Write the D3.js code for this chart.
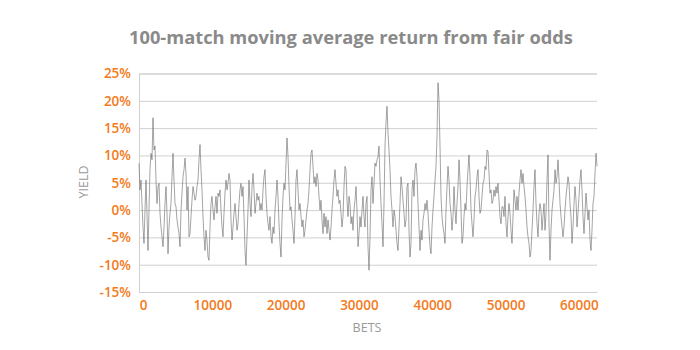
<!DOCTYPE html>
<html>
<head>
<meta charset="utf-8">
<script src="https://cdn.jsdelivr.net/npm/d3@7/dist/d3.min.js"></script>
<style>
  html, body { margin: 0; padding: 0; background: #fff; }
  svg { display: block; }
</style>
</head>
<body>
<svg id="chart" width="700" height="350"></svg>
<script>
// ---- data ----
const title = "100-match moving average return from fair odds";
const xLabel = "BETS";
const yLabel = "YIELD";
const xTicks = [0, 10000, 20000, 30000, 40000, 50000, 60000];
const yTicks = [-15, -10, -5, 0, 5, 10, 15, 20, 25];
const betsPerSample = 136.4; // one reading per ~136 bets
// 100-match moving average yield (%), read left to right
const yieldSeg1 = [8.6,3.7,5.5,1.2,-3.1,-6.1,0,5.5,-0.6,-7.4,
  0,7.4,10.4,9.2,16.9,11.0,11.7,5.5,1.2,4.3,
  4.9,-0.6,-3.1,-4.9,-6.7,-3.1,1.2,4.3,-0.6,-8.0,
  -3.1,-0.6,1.2,6.1,10.4,5.5,1.2,0.6,-1.8,-3.1,
  -4.3,-6.7,0,3.1,6.1,7.4,9.5,6.7,0,4.3,
  -4.9,-4.3,-1.2,1.8,4.3,3.1,1.8,2.5,4.3,5.5,
  9.2,12.0,7.4,3.7,-1.2,-4.9,-7.4,-3.7,-5.5,-8.6,
  -9.2,-3.1,1.2,2.5,0,-1.8,0.6,2.5,-0.6,3.1,
  2.5,3.7,0,-3.1,-4.9,-0.6,3.1,5.5,3.7,4.9,
  6.7];
const yieldSeg2 = [5.5,-1.8,-5.5,-3.1,-0.6,1.2,-1.2,-3.7,-2.5,1.2,
  3.7,4.9,2.5,4.3,-1.2,-7.4,-10.1,-4.9,0,5.5,
  1.2,-1.2,4.3,6.7,3.7,-0.6,1.2,3.1,1.8,2.5,
  0,1.2,0,3.7,6.1,7.4,2.5,-0.6,-2.5,-3.7,
  -1.2,-4.9,-6.1,-3.1,-4.3,0,2.5,5.5,2.5,-2.5,
  -6.1,-8.6,-1.8,2.5,4.9,3.7,8.6,13.2,9.8,4.3,
  0,0.6,-1.8,-3.7,-6.1,-1.2,5.5,7.4,3.7,0,
  1.2,-1.2,-3.1,-1.8,-4.9,-3.7,-1.8,0,1.2,3.7,
  7.4,10.4,11.0,8.0,4.9,6.1,4.3,6.7,5.5,2.5,
  0];
const yieldSeg3 = [1.8,-1.8,-4.3,-0.6,-3.1,-1.2,-4.3,-1.8,-3.7,-5.5,
  -3.1,0,2.5,5.5,7.4,4.9,2.5,3.7,1.2,1.8,
  -0.6,-3.1,-1.2,4.3,8.0,7.4,1.8,-1.2,2.5,1.2,
  -2.5,-1.2,-3.7,0,1.8,4.3,0,-6.7,-4.3,-1.2,
  -3.1,0,2.5,-1.2,-3.1,1.2,2.5,-6.7,-11.0,-4.9,
  3.7,6.1,1.2,4.9,8.6,8.0,9.2,9.8,11.7,5.5,
  1.2,-2.5,-6.7,1.2,11.7,16.0,19.0,14.1,11.0,7.4,
  2.5,0,-3.1,0,-1.2,-3.7,-6.1,-7.4,-3.1,1.2,
  6.1,4.3,1.8,-0.6,-3.1,-1.8,4.3,4.9,-3.7,-8.6,
  -6.1];
const yieldSeg4 = [3.7,5.5,2.5,7.4,8.6,6.1,1.2,-3.1,-7.4,-3.7,
  -5.5,-1.8,-0.6,1.2,0,1.8,-0.6,-3.7,-6.7,-8.0,
  -3.1,0,2.5,5.5,8.0,13.5,23.3,20.2,11.7,2.5,
  -1.2,-3.1,-4.3,-6.1,0,4.3,8.0,5.5,1.2,-0.6,
  -3.7,-1.2,4.3,0,-2.5,1.2,4.3,9.2,5.5,0,
  -6.1,-4.9,-1.2,1.2,0,4.3,7.4,10.1,6.1,0,
  -2.5,-4.9,-1.8,2.5,3.7,6.1,7.4,2.5,-0.6,0,
  2.5,4.9,5.5,8.0,7.4,11.0,10.7,6.7,3.1,3.7,
  1.2,1.8,3.7,2.5,4.3,3.1,4.9,1.8,-1.2,-2.5,
  0.6];
const yieldSeg5 = [0.6,-1.2,2.5,-2.5,-4.9,-1.2,1.2,-0.6,-3.7,-6.1,
  -1.2,3.7,1.8,0,2.5,0,3.1,5.5,7.4,4.9,
  6.7,4.3,2.5,0,-3.1,-4.9,-6.1,-8.6,-7.4,-3.7,
  0,4.3,7.4,1.2,-2.5,-4.9,-0.6,1.2,0,-3.7,
  -1.2,1.2,-3.7,-0.6,5.5,10.1,-2.5,-9.2,-3.7,0,
  1.8,3.7,7.4,4.9,6.1,9.2,5.5,1.2,-1.2,-3.1,
  -4.9,-3.1,0,2.5,4.3,6.1,4.9,1.2,-1.2,-6.1,
  -3.1,1.2,4.3,1.8,-3.1,-0.6,2.5,5.5,7.4,3.7,
  -1.2,-4.3,-0.6,3.1,0.6,-1.8,0,-5.5,-7.4,-3.7,
  1.2,2.5,6.7,10.4,8.0];
const yieldValues = [].concat(yieldSeg1, yieldSeg2, yieldSeg3, yieldSeg4, yieldSeg5);
const series = yieldValues.map((v, i) => ({ bets: i * betsPerSample, y: v }));

// ---- layout ----
const svg = d3.select("#chart");
const plotLeft = 139, plotRight = 597, plotTop = 73.5, plotBottom = 292;
const orange = "#f47a20";
const grey = "#8a8a8a";

const x = d3.scaleLinear().domain([0, d3.max(series, d => d.bets)]).range([plotLeft, plotRight]);
const y = d3.scaleLinear().domain([-15, 25]).range([plotBottom, plotTop]);

// title
svg.append("text")
  .attr("x", 351).attr("y", 44)
  .attr("text-anchor", "middle")
  .attr("font-family", "'Open Sans', sans-serif")
  .attr("font-weight", 700)
  .attr("font-size", 18.3)
  .attr("fill", grey)
  .text(title);

// horizontal gridlines + y labels
const yAxis = d3.axisLeft(y).tickValues(yTicks).tickSize(-(plotRight - plotLeft)).tickPadding(8)
  .tickFormat(d => d + "%");
const gy = svg.append("g").attr("transform", `translate(${plotLeft},0)`).call(yAxis);
gy.select(".domain").attr("stroke", "#d0d0d0");
gy.selectAll(".tick line").attr("stroke", "#d0d0d0").attr("stroke-width", 1);
gy.selectAll(".tick text")
  .attr("fill", orange)
  .attr("font-family", "'Open Sans', sans-serif")
  .attr("font-weight", 600)
  .attr("font-size", 13.5);

// x axis
const xAxis = d3.axisBottom(x).tickValues(xTicks).tickSize(0).tickPadding(8)
  .tickFormat(d3.format("d"));
const gx = svg.append("g").attr("transform", `translate(0,${plotBottom})`).call(xAxis);
gx.select(".domain").attr("stroke", "#d0d0d0");
gx.selectAll(".tick text")
  .attr("fill", orange)
  .attr("font-family", "'Open Sans', sans-serif")
  .attr("font-weight", 600)
  .attr("font-size", 13.5)
  .attr("dx", d => d === 0 ? 4 : 0);

// line
const line = d3.line().x(d => x(d.bets)).y(d => y(d.y));
svg.append("path")
  .datum(series)
  .attr("d", line)
  .attr("fill", "none")
  .attr("stroke", "#666")
  .attr("stroke-width", 0.7)
  .attr("stroke-opacity", 0.85);

// axis titles
svg.append("text")
  .attr("transform", "translate(88,182) rotate(-90)")
  .attr("text-anchor", "middle")
  .attr("font-family", "'Open Sans', sans-serif")
  .attr("font-size", 12.5)
  .attr("fill", "#9a9a9a")
  .text(yLabel);
svg.append("text")
  .attr("x", 367).attr("y", 332)
  .attr("text-anchor", "middle")
  .attr("font-family", "'Open Sans', sans-serif")
  .attr("font-size", 12.5)
  .attr("fill", "#9a9a9a")
  .text(xLabel);
</script>
</body>
</html>
